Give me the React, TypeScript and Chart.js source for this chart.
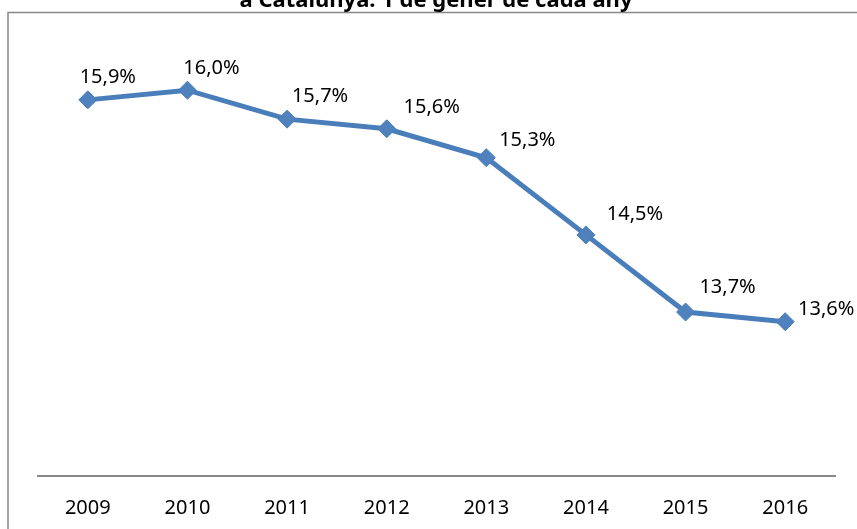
import React, { useEffect, useRef } from "react";
import { Chart, registerables } from "chart.js";

Chart.register(...registerables);

const years = ["2009", "2010", "2011", "2012", "2013", "2014", "2015", "2016"];
const shares = [15.9, 16.0, 15.7, 15.6, 15.3, 14.5, 13.7, 13.6];
const titleText = "a Catalunya. 1 de gener de cada any";
// label nudges (px) relative to each point, as in the original layout
const labelDx = [20, 24, 33, 45, 41, 49, 42, 41];
const labelDy = [-23, -22, -23, -22, -17, -21, -25, -12];

const FONT = "'Noto Sans', sans-serif";
const LINE = "#4A7EBB";

const decor = {
  id: "decor",
  beforeDraw(chart: any) {
    const ctx = chart.ctx;
    ctx.save();
    ctx.fillStyle = "#ffffff";
    ctx.fillRect(0, 0, chart.width, chart.height);
    ctx.strokeStyle = "#888888";
    ctx.lineWidth = 1.5;
    ctx.beginPath();
    ctx.moveTo(8, chart.height + 5);
    ctx.lineTo(8, 12.5);
    ctx.lineTo(chart.width + 5, 12.5);
    ctx.stroke();
    ctx.fillStyle = "#000000";
    ctx.font = `bold 22px ${FONT}`;
    ctx.textAlign = "center";
    ctx.textBaseline = "alphabetic";
    ctx.fillText(titleText, 436, 7, 396);
    ctx.restore();
  },
  afterDatasetsDraw(chart: any) {
    const ctx = chart.ctx;
    const meta = chart.getDatasetMeta(0);
    ctx.save();
    ctx.fillStyle = "#000000";
    ctx.font = `20px ${FONT}`;
    ctx.textAlign = "center";
    ctx.textBaseline = "middle";
    meta.data.forEach((pt: any, i: number) => {
      const txt = shares[i].toFixed(1).replace(".", ",") + "%";
      ctx.fillText(txt, pt.x + labelDx[i], pt.y + labelDy[i]);
    });
    ctx.restore();
  },
};

export default function App() {
  const ref = useRef<HTMLCanvasElement>(null);
  useEffect(() => {
    if (!ref.current) return;
    const chart = new Chart(ref.current, {
      type: "line",
      data: {
        labels: years,
        datasets: [
          {
            data: shares,
            borderColor: LINE,
            borderWidth: 5,
            backgroundColor: "#4F81BD",
            pointStyle: "rectRot",
            pointRadius: 9,
            pointBorderColor: LINE,
            pointBorderWidth: 1,
            pointBackgroundColor: "#4F81BD",
            tension: 0,
            fill: false,
          },
        ],
      },
      options: {
        responsive: false,
        animation: false,
        layout: { padding: { left: 38, right: 22, top: 42, bottom: 0 } },
        plugins: {
          legend: { display: false },
          title: { display: false },
          tooltip: { enabled: false },
        },
        scales: {
          x: {
            offset: true,
            grid: { display: false, drawTicks: false },
            border: { display: true, color: "#888888", width: 2 },
            ticks: {
              color: "#000000",
              padding: 20,
              font: { family: FONT, size: 20 },
              maxRotation: 0,
            },
            afterFit(scale: any) {
              scale.height = 53;
            },
          },
          y: {
            display: false,
            min: 12,
            max: 16.5,
          },
        },
      },
      plugins: [decor],
    });
    return () => chart.destroy();
  }, []);
  return (
    <div style={{ position: "absolute", left: 0, top: 0, width: 857, height: 529 }}>
      <canvas ref={ref} width={857} height={529} style={{ display: "block" }} />
    </div>
  );
}
